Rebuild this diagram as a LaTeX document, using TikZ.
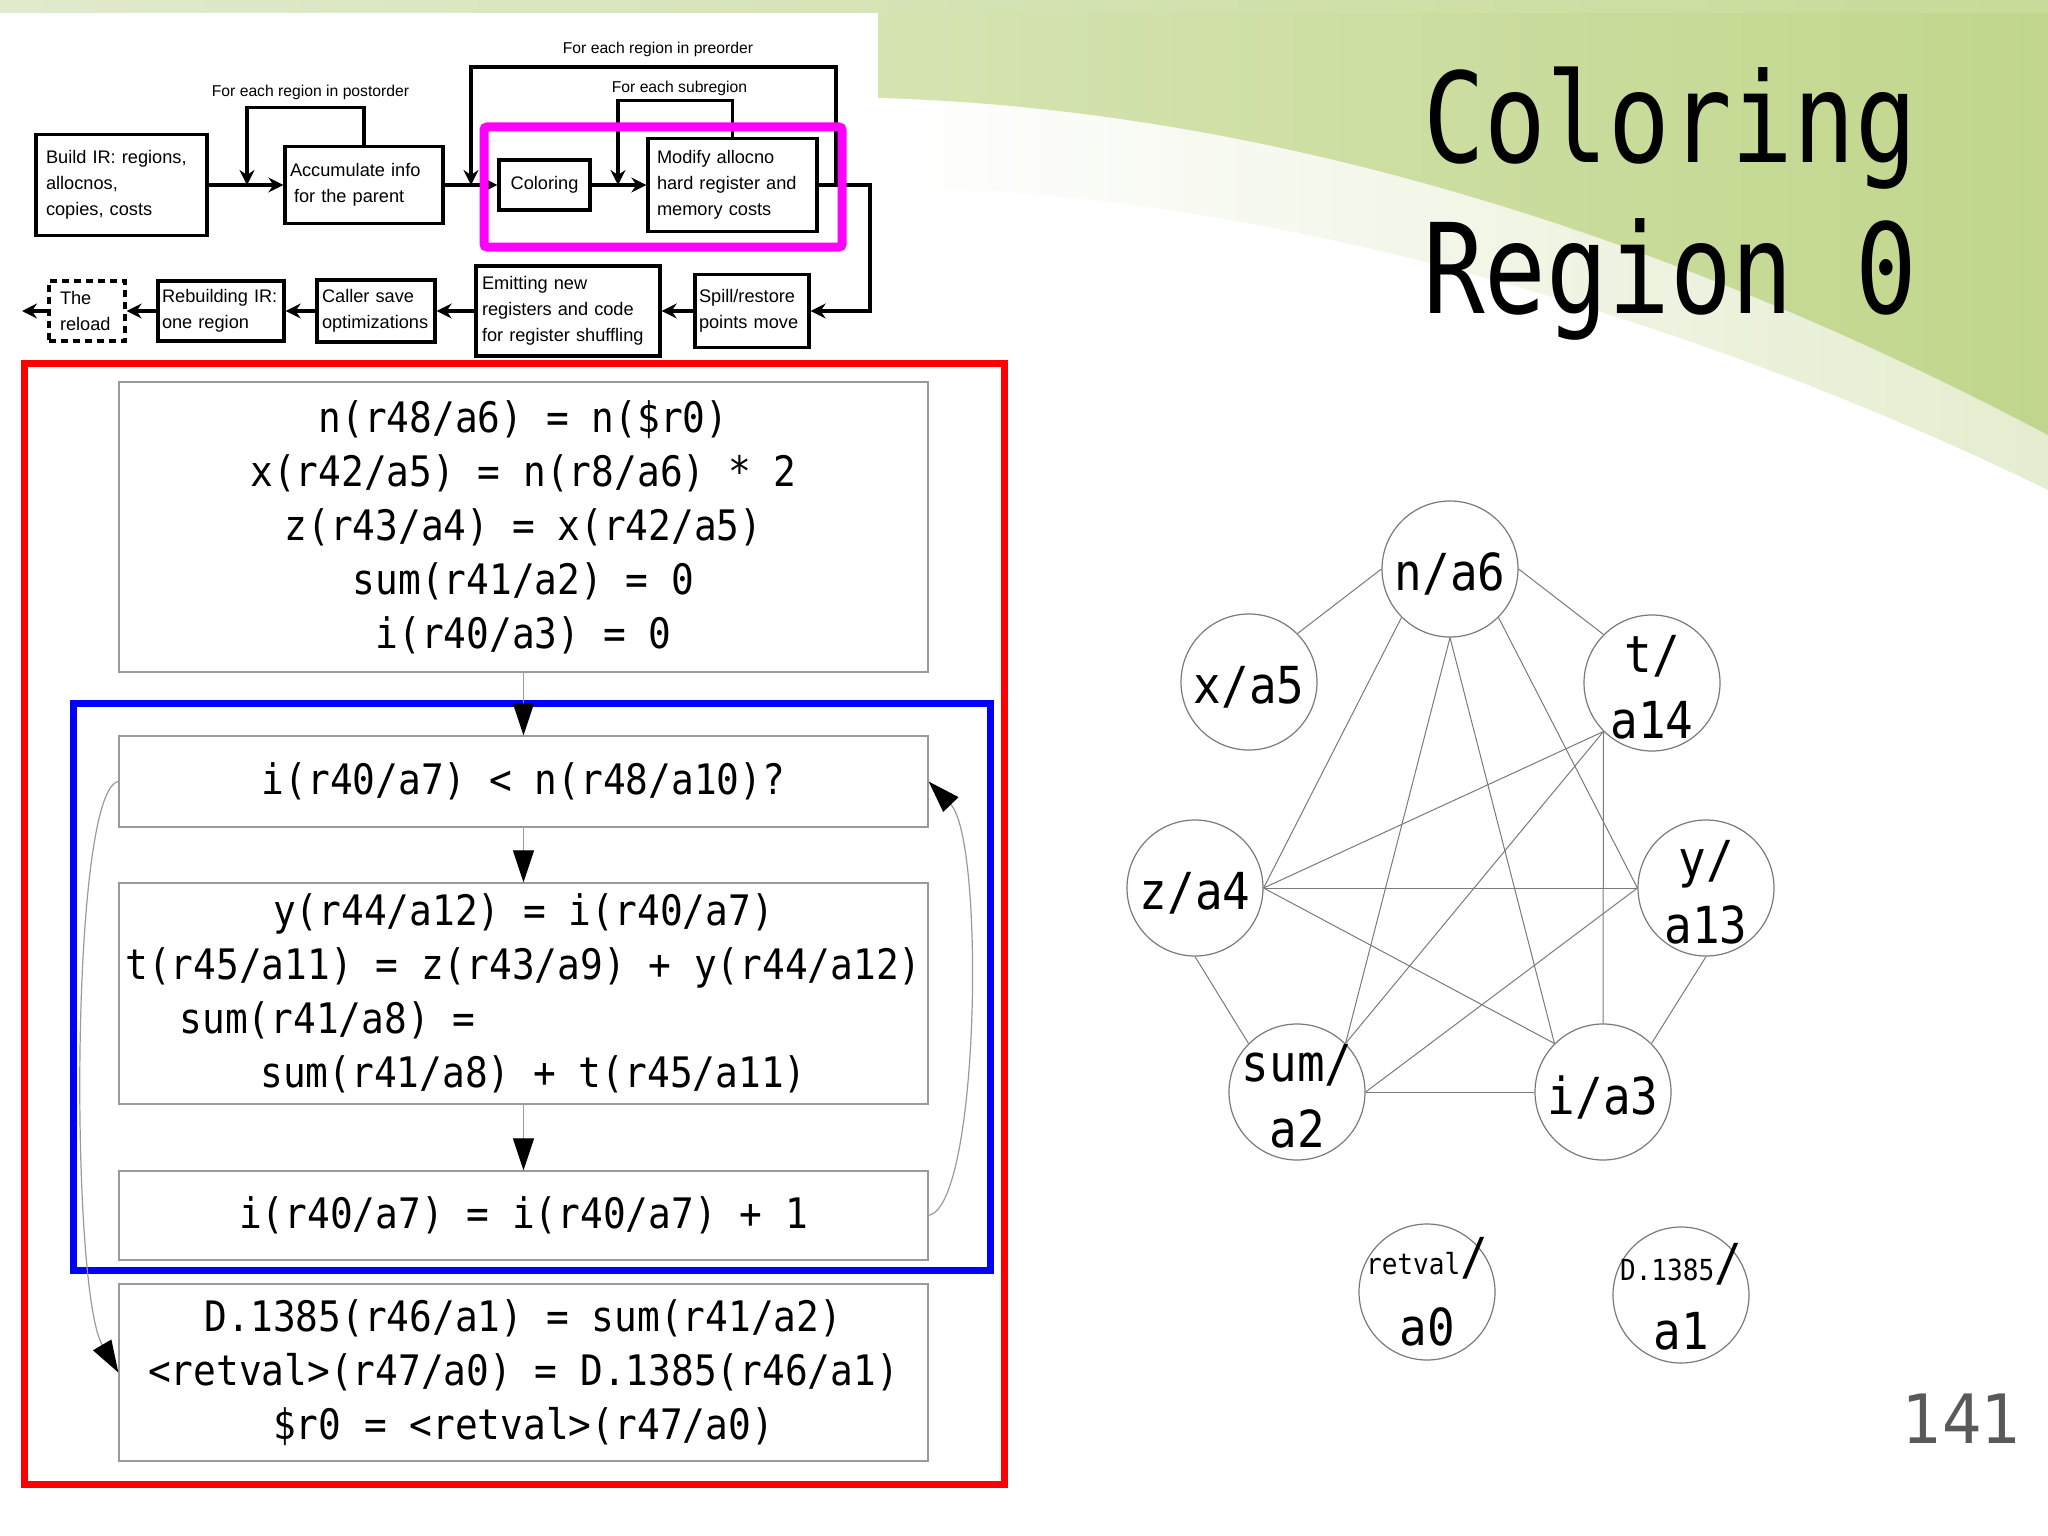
\documentclass[tikz,border=0pt]{standalone}
\usepackage{fontspec}
\usetikzlibrary{arrows.meta}

\newfontfamily\monofont[FakeStretch=0.9]{DejaVu Sans Mono}
\newfontfamily\titlefont[FakeStretch=0.82]{DejaVu Sans Mono}
\newfontfamily\flowfont{Liberation Sans}
\newfontfamily\pagefont[FakeStretch=0.92]{DejaVu Sans}

\definecolor{stripl}{HTML}{E0EACD}
\definecolor{stripr}{HTML}{C8DB98}
\definecolor{leaf}{HTML}{C1D68C}
\definecolor{paleleaf}{HTML}{D6E4B2}
\definecolor{fadeleaf}{HTML}{E4EDCF}
\definecolor{hilite}{HTML}{FF00FF}
\definecolor{loopred}{HTML}{FF0000}
\definecolor{loopblue}{HTML}{0000FF}
\definecolor{boxgray}{HTML}{9A9A9A}
\definecolor{edgegray}{HTML}{7A7A7A}
\definecolor{numgray}{HTML}{595959}

\begin{document}
\begin{tikzpicture}[x=1pt, y=-1pt,
  fbox/.style={draw, line width=3.3pt, font=\flowfont\fontsize{18.2}{26}\selectfont, align=left, inner sep=0pt},
  flabel/.style={font=\flowfont\fontsize{15.7}{18}\selectfont, inner sep=0pt},
  farrow/.style={line width=3.3pt, -{Stealth[length=15pt,width=15pt,inset=5pt]}},
  cbox/.style={draw=boxgray, line width=1.3pt, minimum width=809pt, font=\monofont\fontsize{42}{54}\selectfont, align=center, inner sep=0pt},
  carrow/.style={draw=boxgray, line width=1.2pt, -{Triangle[length=32pt,width=21pt,color=black]}},
  reg/.style={circle, draw=edgegray, line width=1.2pt, minimum size=136pt, inner sep=0pt},
  regtxt/.style={font=\monofont\fontsize{51}{66}\selectfont, align=center, inner sep=0pt},
  conflict/.style={draw=edgegray, line width=1pt}]

  \useasboundingbox (0,0) rectangle (2048,1536);

  % Slide background
  \fill[white] (0,0) rectangle (2048,1536);
  \shade[left color=stripl, right color=stripr] (0,0) rectangle (2048,13);
  \shade[left color=white, right color=fadeleaf] (878,96) .. controls (1250,110) and (1650,225) .. (2048,432) -- (2048,490) .. controls (1700,320) and (1250,185) .. (878,188) -- cycle;
  \shade[left color=paleleaf, right color=leaf] (878,13) -- (2048,13) -- (2048,435) .. controls (1650,225) and (1250,108) .. (878,98) -- cycle;

  % Title
  \node[font=\titlefont\fontsize{125}{150}\selectfont, anchor=base west, inner sep=0pt] (title1) at (1423,163) {Coloring};
  \node[font=\titlefont\fontsize{125}{150}\selectfont, anchor=base west, inner sep=0pt] (title2) at (1423,313) {Region 0};
  \node[font=\pagefont\fontsize{68}{80}\selectfont, text=numgray, anchor=base east, inner sep=0pt] (pagenum) at (2022,1443) {141};

  % Allocator flow, top row
  \node[fbox, minimum width=171pt, minimum height=101pt, text width=151pt] (build) at (121.5,185) {Build IR: regions,\\allocnos,\\copies, costs};
  \node[fbox, minimum width=158pt, minimum height=77pt, text width=148pt] (accum) at (364,185) {Accumulate info\\\hspace*{4pt}for the parent};
  \node[fbox, minimum width=91pt, minimum height=50pt, align=center] (color) at (544.5,185) {Coloring};
  \node[fbox, minimum width=169pt, minimum height=93pt, text width=151pt] (modify) at (732.5,185) {Modify allocno\\hard register and\\memory costs};

  % Allocator flow, bottom row
  \node[fbox, minimum width=114pt, minimum height=73pt, text width=106pt] (spill) at (752,311) {Spill/restore\\points move};
  \node[fbox, minimum width=184pt, minimum height=90pt, text width=172pt] (emit) at (568,311) {Emitting new\\registers and code\\for register shuffling};
  \node[fbox, minimum width=118pt, minimum height=62pt, text width=108pt] (caller) at (376,311) {Caller save\\optimizations};
  \node[fbox, minimum width=126pt, minimum height=60pt, text width=118pt] (rebuild) at (221,311) {Rebuilding IR:\\one region};
  \node[fbox, dash pattern=on 7pt off 5pt, minimum width=76pt, minimum height=60pt, text width=54pt] (reload) at (87,311) {The\\reload};

  % Loop labels
  \node[flabel] (preorder) at (658,49) {For each region in preorder};
  \node[flabel] (postorder) at (310.5,92) {For each region in postorder};
  \node[flabel] (subregion) at (679.5,88) {For each subregion};

  \coordinate (postin) at (247,185);
  \coordinate (prein) at (471,185);
  \coordinate (subin) at (618,185);
  \coordinate (preout) at (836,185);
  \coordinate (turn) at (870,185);
  \coordinate (outend) at (22,311);

  \draw[farrow] (build) -- (accum);
  \draw[farrow] (accum.north) -- ++(0,-37) -| (postin);
  \draw[farrow] (accum) -- (color);
  \draw[farrow] (preout) -- ++(0,-118) -| (prein);
  \draw[farrow] (color) -- (modify);
  \draw[farrow] (modify.north) -- ++(0,-36) -| (subin);
  \draw[farrow] (modify) -- (turn) |- (spill);
  \draw[farrow] (spill) -- (emit);
  \draw[farrow] (emit) -- (caller);
  \draw[farrow] (caller) -- (rebuild);
  \draw[farrow] (rebuild) -- (reload);
  \draw[farrow] (reload) -- (outend);

  % Current step
  \draw[hilite, line width=9pt, rounded corners=3pt] (484,127) rectangle (842,247);

  % Region 0 and its loop
  \draw[loopred, line width=7pt] (24.5,363.5) rectangle (1004.5,1484.5);
  \draw[loopblue, line width=7pt] (73.5,703.5) rectangle (990.5,1270.5);

  \node[cbox, minimum height=290pt] (init) at (523.5,527) {n(r48/a6) = n(\$r0)\\x(r42/a5) = n(r8/a6) * 2\\z(r43/a4) = x(r42/a5)\\sum(r41/a2) = 0\\i(r40/a3) = 0};
  \node[cbox, minimum height=91pt] (cond) at (523.5,781.5) {i(r40/a7) < n(r48/a10)?};
  \node[cbox, minimum height=221pt] (body) at (523.5,993.5) {y(r44/a12) = i(r40/a7)\\t(r45/a11) = z(r43/a9) + y(r44/a12)\\sum(r41/a8) =\makebox[392pt]{}\\\makebox[20pt]{}sum(r41/a8) + t(r45/a11)};
  \node[cbox, minimum height=89pt] (incr) at (523.5,1215.5) {i(r40/a7) = i(r40/a7) + 1};
  \node[cbox, minimum height=177pt] (ret) at (523.5,1372.5) {D.1385(r46/a1) = sum(r41/a2)\\<retval>(r47/a0) = D.1385(r46/a1)\\\$r0 = <retval>(r47/a0)};

  \draw[carrow] (init) -- (cond);
  \draw[carrow] (cond) -- (body);
  \draw[carrow] (body) -- (incr);
  \draw[carrow] (incr.east) .. controls (980,1205) and (985,840) .. (cond.east);
  \draw[carrow] (cond.west) .. controls (70,790) and (70,1290) .. (ret.west);

  % Conflict graph
  \node[reg] (n) at (1450,569) {};
  \node[reg] (x) at (1249,682) {};
  \node[reg] (t) at (1652,683) {};
  \node[reg] (z) at (1195,888) {};
  \node[reg] (y) at (1706,888) {};
  \node[reg] (s) at (1297,1092) {};
  \node[reg] (i) at (1603,1092) {};
  \node[reg] (rv) at (1427,1292) {};
  \node[reg] (d) at (1681,1295) {};

  \node[regtxt] (n-txt) at (1450,574) {n/a6};
  \node[regtxt] (x-txt) at (1249,687) {x/a5};
  \node[regtxt] (t-txt) at (1652,687) {t/\\a14};
  \node[regtxt] (z-txt) at (1195,893) {z/a4};
  \node[regtxt] (y-txt) at (1706,892) {y/\\a13};
  \node[regtxt] (s-txt) at (1297,1096) {sum/\\a2};
  \node[regtxt] (i-txt) at (1603,1097) {i/a3};
  \node[regtxt] (rv-txt) at (1427,1292) {{\fontsize{29}{30}\selectfont retval}/\\[5pt]a0};
  \node[regtxt] (d-txt) at (1681,1297) {{\fontsize{29}{30}\selectfont D.1385}/\\[3pt]a1};

  \draw[conflict] (n.west) -- (x.45);
  \draw[conflict] (n.east) -- (t.135);
  \draw[conflict] (n.225) -- (z.east);
  \draw[conflict] (n.south) -- (s.45);
  \draw[conflict] (n.south) -- (i.135);
  \draw[conflict] (n.315) -- (y.west);
  \draw[conflict] (t.225) -- (z.east);
  \draw[conflict] (t.225) -- (s.45);
  \draw[conflict] (t.225) -- (i.north);
  \draw[conflict] (z.east) -- (y.west);
  \draw[conflict] (z.east) -- (i.135);
  \draw[conflict] (z.south) -- (s.135);
  \draw[conflict] (y.west) -- (s.east);
  \draw[conflict] (y.south) -- (i.45);
  \draw[conflict] (s.east) -- (i.west);
\end{tikzpicture}
\end{document}
